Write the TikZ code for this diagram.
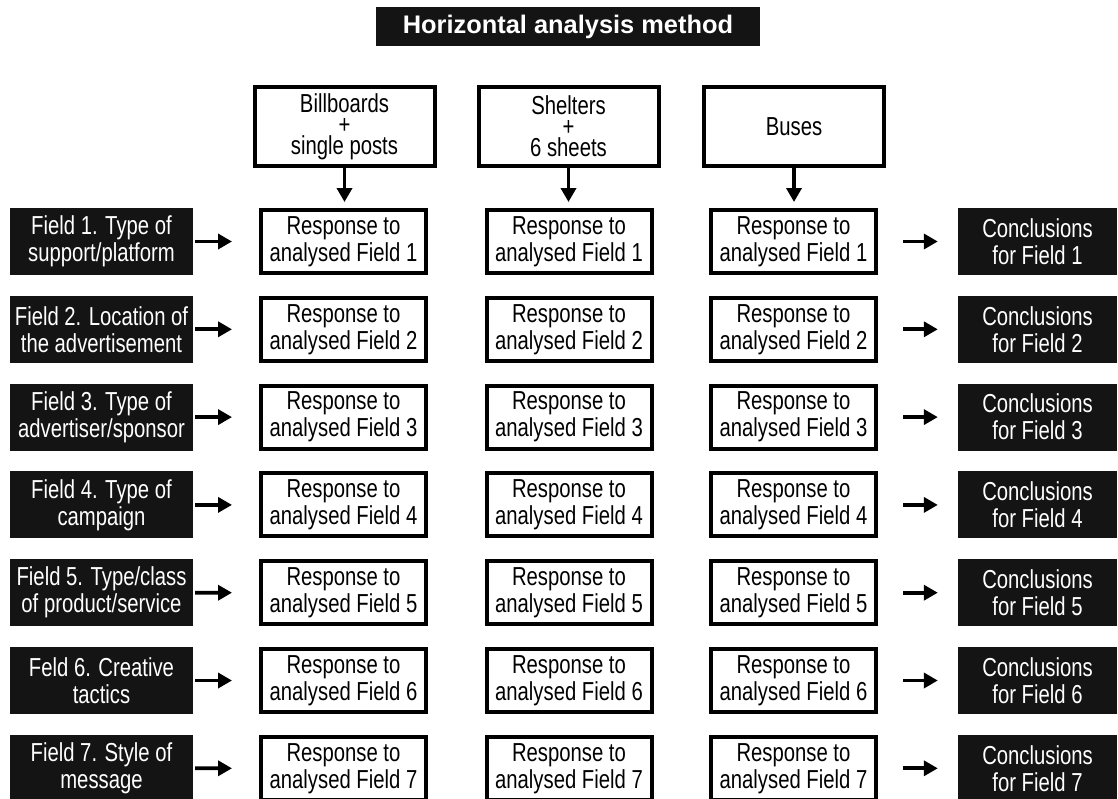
\documentclass[tikz,border=0pt]{standalone}
\usepackage{fontspec}
\setmainfont{Liberation Sans}[FakeStretch=0.78]
\newfontfamily\titlefont{Liberation Sans}
\usetikzlibrary{arrows.meta}
\definecolor{boxblack}{HTML}{141414}
\begin{document}
\begin{tikzpicture}[x=1pt,y=-1pt,
  txt/.style={align=center, inner sep=0pt, font=\fontsize{26}{27}\selectfont},
  wbox/.style={txt, draw=black, line width=4pt, fill=white, minimum width=165pt, minimum height=63pt},
  topbox/.style={txt, draw=black, line width=4pt, fill=white, minimum width=180pt, minimum height=79pt},
  lbox/.style={txt, fill=boxblack, text=white, minimum width=183pt, minimum height=67pt},
  rbox/.style={txt, fill=boxblack, text=white, minimum width=159pt, minimum height=67pt},
  arr/.style={line width=3.8pt, -{Triangle[length=14pt,width=15pt]}}
]
\useasboundingbox (0,0) rectangle (1118,798);
\clip (0,0) rectangle (1118,798);
\fill[white] (0,0) rectangle (1118,798);

\node[fill=boxblack, text=white, inner sep=0pt, minimum width=384pt, minimum height=39pt,
  font=\titlefont\bfseries\fontsize{25.4}{28}\selectfont] (title) at (568,26.5) {Horizontal analysis method};

\node[topbox] (t1) at (344.5,126.5) {Billboards\\[-6pt]+\\[-6pt]single posts};
\node[topbox] (t2) at (568.5,126.5) {Shelters\\[-6pt]+\\[-6pt]6 sheets};
\node[topbox] (t3) at (794,126.5) {Buses};

\node[lbox] (l1) at (101.5,241.5) {Field 1. Type of\\support/platform};
\node[lbox] (l2) at (101.5,329.3) {Field 2. Location of\\the advertisement};
\node[lbox] (l3) at (101.5,417.1) {Field 3. Type of\\advertiser/sponsor};
\node[lbox] (l4) at (101.5,504.9) {Field 4. Type of\\campaign};
\node[lbox] (l5) at (101.5,592.7) {Field 5. Type/class\\of product/service};
\node[lbox] (l6) at (101.5,680.5) {Feld 6. Creative\\tactics};
\node[lbox] (l7) at (101.5,768.3) {Field 7. Style of\\message};

\foreach \i in {1,...,7} {
  \pgfmathsetmacro\yy{241.5+87.8*(\i-1)}
  \node[wbox] (a\i) at (343.5,\yy) {Response to\\analysed Field \i};
  \node[wbox] (b\i) at (569,\yy) {Response to\\analysed Field \i};
  \node[wbox] (c\i) at (793.5,\yy) {Response to\\analysed Field \i};
  \node[rbox] (r\i) at (1037.5,\yy) {Conclusions\\for Field \i};
  \draw[arr, shorten <=2pt, shorten >=27pt] (l\i) -- (a\i);
  \draw[arr, shorten <=25pt, shorten >=20pt] (c\i) -- (r\i);
}

\draw[arr, shorten >=6pt] (t1.south) -- (t1.south |- a1.north);
\draw[arr, shorten >=6pt] (t2.south) -- (t2.south |- b1.north);
\draw[arr, shorten >=6pt] (t3.south) -- (t3.south |- c1.north);
\end{tikzpicture}
\end{document}
